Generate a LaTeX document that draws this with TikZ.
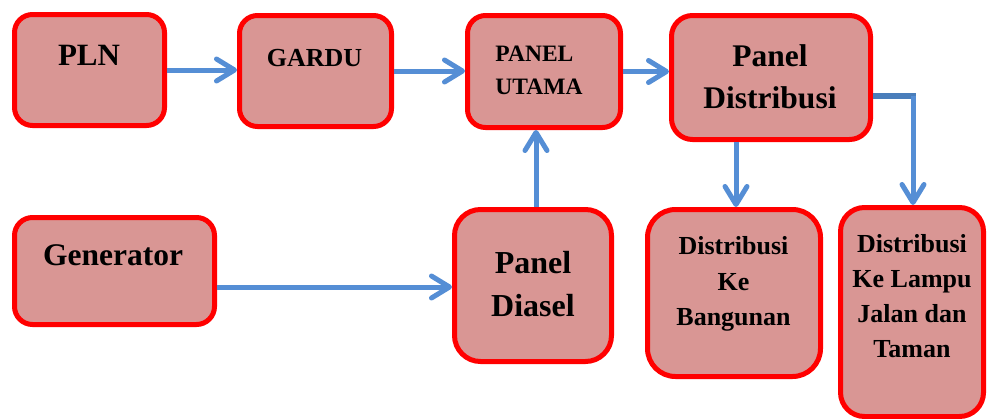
\documentclass[tikz,border=0pt]{standalone}
\usepackage{fontspec}
\setmainfont{Liberation Serif}
\usetikzlibrary{arrows.meta,calc}
\definecolor{boxfill}{HTML}{D99694}
\definecolor{boxline}{HTML}{FF0000}
\definecolor{flow}{HTML}{558ED5}
\definecolor{flowdark}{HTML}{4A7EBB}
\tikzset{
  block/.style={draw=boxline, fill=boxfill, line width=5pt, inner sep=0pt},
  caption/.style={align=center, inner sep=0pt, text=black},
  flowline/.style={draw=flow, line width=5pt, -{Straight Barb[length=18pt,width=22pt,round]}},
}
\begin{document}
\begin{tikzpicture}[x=1pt,y=-1pt]
\useasboundingbox (0,0) rectangle (987,418);

% boxes
\node[block, minimum width=150pt, minimum height=111pt, rounded corners=18pt] (pln) at (89.5,70) {};
\node[block, minimum width=152pt, minimum height=111pt, rounded corners=18pt] (gardu) at (315.5,71) {};
\node[block, minimum width=153pt, minimum height=112pt, rounded corners=18pt] (utama) at (544,71.5) {};
\node[block, minimum width=199pt, minimum height=124pt, rounded corners=21pt] (dist) at (771,77.5) {};
\node[block, minimum width=200pt, minimum height=107pt, rounded corners=18pt] (gen) at (114.5,271) {};
\node[block, minimum width=157pt, minimum height=152pt, rounded corners=26pt] (diasel) at (533,285.5) {};
\node[block, minimum width=173pt, minimum height=167pt, rounded corners=28pt] (bang) at (734,293) {};
\node[block, minimum width=143pt, minimum height=209pt, rounded corners=24pt] (lampu) at (912,312) {};

% labels
\node[caption, font=\bfseries\fontsize{31}{37}\selectfont] (plnt) at (89,55.5) {PLN};
\node[caption, font=\bfseries\fontsize{26}{31}\selectfont] (gardut) at (314.5,58.5) {GARDU};
\node[caption, align=left, font=\bfseries\fontsize{23.5}{33}\selectfont] (utamat) at (539,70.3) {PANEL\\UTAMA};
\node[caption, font=\bfseries\fontsize{31.5}{42}\selectfont] (distt) at (770,76.5) {Panel\\Distribusi};
\node[caption, font=\bfseries\fontsize{31.5}{37}\selectfont] (gent) at (113,255.5) {Generator};
\node[caption, font=\bfseries\fontsize{32}{43}\selectfont] (diaselt) at (533,284) {Panel\\Diasel};
\node[caption, font=\bfseries\fontsize{26}{35.5}\selectfont] (bangt) at (733.5,284) {Distribusi\\Ke\\Bangunan};
\node[caption, font=\bfseries\fontsize{26}{35}\selectfont] (lamput) at (912,295.7) {Distribusi\\Ke Lampu\\Jalan dan\\Taman};

% connectors
\draw[flowline] (pln.east) -- (pln.east -| gardu.west);
\draw[flowline] (gardu.east) -- (gardu.east -| utama.west);
\draw[flowline] (utama.east) -- (utama.east -| dist.west);
\draw[flowline] ([xshift=3pt]diasel.north) -- ([xshift=3pt]diasel.north |- utama.south);
\draw[flowline] ([yshift=-1.5pt]diasel.west -| gen.east) -- ([yshift=-1.5pt]diasel.west);
\draw[flowline] ([xshift=2pt]bang.north |- dist.south) -- ([xshift=2pt]bang.north);
\coordinate (split) at (913,95.5);
\draw[flowdark, line width=6pt] (dist.east |- split) -- ([xshift=3pt]split);
\draw[flowline] (split) -- (split |- lampu.north);
\end{tikzpicture}
\end{document}
